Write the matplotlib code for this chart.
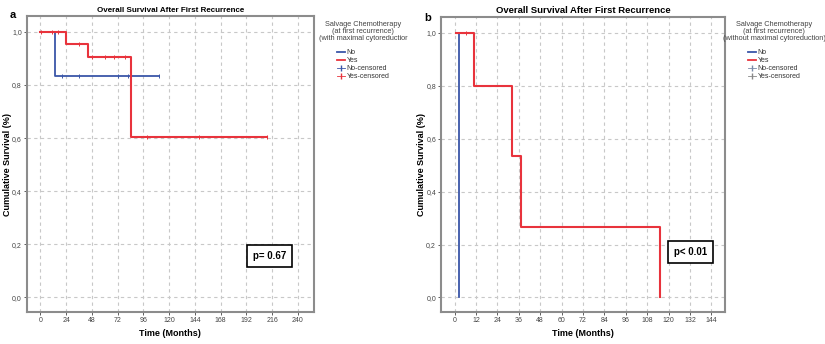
import numpy as np
import matplotlib.pyplot as plt
from matplotlib.lines import Line2D

plt.rcParams['font.family'] = ['Liberation Sans', 'DejaVu Sans']

# panel a: with maximal cytoreduction
a_no_t = [0, 14, 110.7]
a_no_s = [1.0, 0.833, 0.833]
a_no_cens_t = [20.5, 36, 72, 81.5, 110.7]
a_no_cens_s = [0.833, 0.833, 0.833, 0.833, 0.833]
a_yes_t = [0, 24.3, 44.2, 84.3, 211]
a_yes_s = [1.0, 0.955, 0.906, 0.604, 0.604]
a_yes_cens_t = [1, 11, 16.5, 36, 48, 60.4, 69, 79, 99.5, 148, 211]
a_yes_cens_s = [1.0, 1.0, 1.0, 0.955, 0.906, 0.906, 0.906, 0.906, 0.604, 0.604, 0.604]

# panel b: without maximal cytoreduction
b_no_t = [0.7, 2.4, 2.4]
b_no_s = [1.0, 0.0, 0.0]
b_yes_t = [1, 11, 32.1, 37.2, 115, 115]
b_yes_s = [1.0, 0.8, 0.533, 0.267, 0.0, 0.0]
b_yes_cens_t = [6.3]
b_yes_cens_s = [1.0]

blue = '#3a56a8'
red = '#e8333c'
grid_c = '#c8c8c8'
frame_c = '#8c8c8c'

fig = plt.figure(figsize=(8.25, 3.44), dpi=100)
ax1 = fig.add_axes([0.0324, 0.093, 0.348, 0.8605])
ax2 = fig.add_axes([0.5345, 0.093, 0.3446, 0.858])


def style(ax, xt, xlim, title_size, ylab_x):
    ax.set_xlim(*xlim)
    ax.set_ylim(-0.055, 1.06)
    ax.set_xticks(xt)
    ax.set_yticks([0, 0.2, 0.4, 0.6, 0.8, 1.0])
    ax.set_yticklabels(['0,0', '0,2', '0,4', '0,6', '0,8', '1,0'])
    ax.grid(True, color=grid_c, linestyle=(0, (3, 3)), linewidth=0.8)
    ax.set_axisbelow(True)
    for s in ax.spines.values():
        s.set_color(frame_c)
        s.set_linewidth(1.5)
    ax.tick_params(labelsize=5, colors='#444444', length=2, width=0.6, pad=1.5)
    ax.set_xlabel('Time (Months)', fontsize=6.5, fontweight='bold')
    ax.xaxis.set_label_coords(0.5, -0.056)
    ax.set_ylabel('Cumulative Survival (%)', fontsize=6.5, fontweight='bold')
    ax.yaxis.set_label_coords(ylab_x, 0.5)
    ax.set_title('Overall Survival After First Recurrence', fontsize=title_size,
                 fontweight='bold', pad=3)


style(ax1, np.arange(0, 241, 24), (-12.7, 255), 5.8, -0.052)
style(ax2, np.arange(0, 145, 12), (-7.7, 151.8), 6.8, -0.051)

ax1.step(a_no_t, a_no_s, where='post', color=blue, lw=1.3)
ax1.step(a_yes_t, a_yes_s, where='post', color=red, lw=1.5)
ax1.plot(a_no_cens_t, a_no_cens_s, '|', color=blue, ms=3, mew=0.7)
ax1.plot(a_yes_cens_t, a_yes_cens_s, '|', color=red, ms=3, mew=0.7)

ax2.step(b_no_t, b_no_s, where='post', color=blue, lw=1.3)
ax2.step(b_yes_t, b_yes_s, where='post', color=red, lw=1.5)
ax2.plot(b_yes_cens_t, b_yes_cens_s, '|', color=red, ms=3, mew=0.7)

box = dict(boxstyle='square,pad=0.6', fc='white', ec='black', lw=1.2)
ax1.text(214, 0.156, 'p= 0.67', fontsize=7, fontweight='bold', ha='center', va='center', bbox=box)
ax2.text(132.4, 0.171, 'p< 0.01', fontsize=7, fontweight='bold', ha='center', va='center', bbox=box)

fig.text(0.012, 0.955, 'a', fontsize=8, fontweight='bold', va='center')
fig.text(0.514, 0.948, 'b', fontsize=8, fontweight='bold', va='center')


def legend(ax, title, cens_colors, xc):
    handles = [
        Line2D([], [], color=blue, lw=1.3),
        Line2D([], [], color=red, lw=1.3),
        Line2D([], [], color=cens_colors[0], lw=0.6, marker='|', ms=4),
        Line2D([], [], color=cens_colors[1], lw=0.6, marker='|', ms=4),
    ]
    leg = ax.legend(handles, ['No', 'Yes', 'No-censored', 'Yes-censored'],
                    title=title, loc='upper center', bbox_to_anchor=(xc / 825, 1 - 21 / 344),
                    bbox_transform=fig.transFigure,
                    frameon=False, fontsize=5, title_fontsize=5.3,
                    handlelength=1.2, handletextpad=0.2, labelspacing=0.15,
                    borderpad=0, borderaxespad=0)
    leg._legend_box.align = 'center'
    leg._legend_box.sep = 5
    leg.get_title().set_color('#444444')
    leg.get_title().set_multialignment('center')
    leg.get_title().set_linespacing(1.0)
    for t in leg.get_texts():
        t.set_color('#333333')
    return leg


legend(ax1, 'Salvage Chemotherapy\n(at first recurrence)\n(with maximal cytoreductior',
       [blue, red], 363)
legend(ax2, 'Salvage Chemotherapy\n(at first recurrence)\n(without maximal cytoreduction)',
       ['#7a8aa8', '#888888'], 774)

fig.savefig('out.png', dpi=100)
